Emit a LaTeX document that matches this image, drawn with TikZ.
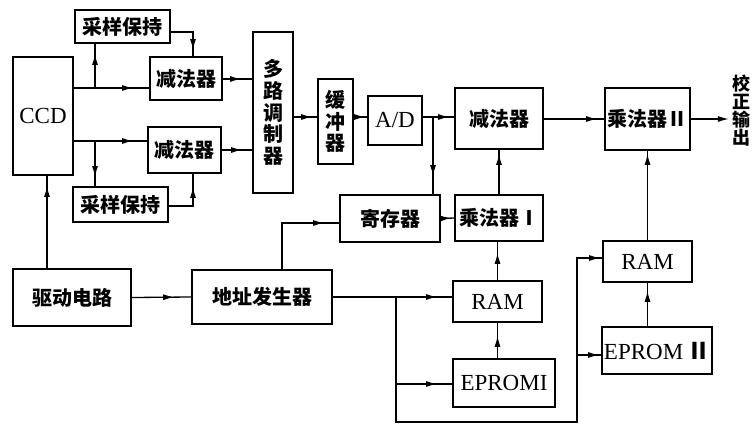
\documentclass[tikz,border=0pt]{standalone}
\usepackage{fontspec}
\setmainfont{Liberation Serif}
\newfontfamily\cjk{Noto Sans CJK SC}
\usetikzlibrary{arrows.meta,decorations.markings}
\tikzset{
  box/.style={draw,line width=1.6pt,inner sep=0pt,font=\cjk\bfseries\fontsize{20}{21.6}\selectfont,align=center},
  lat/.style={font=\fontsize{23}{24}\selectfont},
  conn/.style={line width=1.3pt},
  ar/.style={postaction={decorate,decoration={markings,mark=at position #1 with {\arrow{Latex[length=11pt,width=6pt]}}}}},
}
\begin{document}
\begin{tikzpicture}[x=1pt,y=-1pt]
\useasboundingbox (0,0) rectangle (752,425);
% boxes
\node[box,lat,minimum width=60,minimum height=118] (ccd) at (43,116) {CCD};
\node[box,minimum width=95,minimum height=33] (sh1) at (122.5,26.5) {采样保持};
\node[box,minimum width=72,minimum height=43] (sub1) at (186,78.5) {减法器};
\node[box,minimum width=73,minimum height=46] (sub2) at (184.5,150) {减法器};
\node[box,minimum width=95,minimum height=35] (sh2) at (120.5,204.5) {采样保持};
\node[box,minimum width=40,minimum height=161] (mux) at (273,112.5) {多\\路\\调\\制\\器};
\node[box,minimum width=35,minimum height=85] (buf) at (335.5,121.5) {缓\\冲\\器};
\node[box,lat,minimum width=54,minimum height=49] (ad) at (395,120.5) {A/D};
\node[box,minimum width=88,minimum height=61] (sub3) at (499,118.5) {减法器};
\node[box,minimum width=100,minimum height=47] (reg) at (390,218.5) {寄存器};
\node[box,minimum width=88,minimum height=46] (mul1) at (499,218) {乘法器Ⅰ};
\node[box,minimum width=118,minimum height=57] (drv) at (72,297.5) {驱动电路};
\node[box,minimum width=140,minimum height=54] (addr) at (262,297) {地址发生器};
\node[box,lat,minimum width=89,minimum height=41] (ram1) at (497.5,301.5) {RAM};
\node[box,lat,minimum width=102,minimum height=48] (ep1) at (504,383) {EPROMI};
\node[box,lat,minimum width=89,minimum height=41] (ram2) at (647.5,261.5) {RAM};
\node[box,lat,minimum width=110,minimum height=47] (ep2) at (657,350.5) {EPROM\,{\cjk\bfseries Ⅱ}};
\node[box,minimum width=85,minimum height=62] (mul2) at (647.5,119) {乘法器Ⅱ};
\node[inner sep=0pt,align=center,font=\cjk\bfseries\fontsize{18}{18}\selectfont] (out) at (741,111) {校\\正\\输\\出};
% junction coordinates
\coordinate (j1) at (95,88);
\coordinate (j2) at (95,141);
\coordinate (k1) at (193,32);
\coordinate (k2) at (193,206);
\coordinate (m1) at (237,79);
\coordinate (m2) at (237,150);
\coordinate (r1) at (433,117);
\coordinate (d1) at (47,0);
\coordinate (a1) at (282,223);
\coordinate (b1) at (396,297);
\coordinate (b2) at (396,384);
\coordinate (b3) at (396,422);
\coordinate (b4) at (577,422);
\coordinate (b5) at (577,355);
\coordinate (b6) at (577,258);
% connectors
\draw[conn,ar=-16pt] (ccd.east |- j1) -- (sub1.west |- j1);
\draw[conn,ar=-10pt] (j1) -- (j1 |- sh1.south);
\draw[conn,ar=-6pt] (sh1.east |- k1) -- (k1) -- (k1 |- sub1.north);
\draw[conn,ar=-14pt] (ccd.east |- j2) -- (sub2.west |- j2);
\draw[conn,ar=-9pt] (j2) -- (j2 |- sh2.north);
\draw[conn,ar=-13pt] (sh2.east |- k2) -- (k2) -- (k2 |- sub2.south);
\draw[conn,ar=-11pt] (sub1.east |- m1) -- (mux.west |- m1);
\draw[conn,ar=-10pt] (sub2.east |- m2) -- (mux.west |- m2);
\draw[conn,ar=-5pt] (mux.east |- r1) -- (buf.west |- r1);
\draw[conn,ar=-2pt] (buf.east |- r1) -- (ad.west |- r1);
\draw[conn,ar=-5pt] (ad.east |- r1) -- (sub3.west |- r1);
\draw[conn,ar=-18pt] (r1) -- (r1 |- reg.north);
\draw[conn,ar=-3pt] (reg.east) -- (mul1.west);
\draw[conn,ar=-4pt] (mul1.north) -- (mul1.north |- sub3.south);
\draw[conn,ar=-10pt] (d1 |- drv.north) -- (d1 |- ccd.south);
\draw[conn,ar=-17pt] (drv.east) -- (addr.west);
\draw[conn,ar=-15pt] (a1 |- addr.north) -- (a1) -- (reg.west |- a1);
\draw[conn,ar=-15pt] (addr.east |- b1) -- (ram1.west |- b1);
\draw[conn] (b1) -- (b2);
\draw[conn,ar=-15pt] (b2) -- (ep1.west |- b2);
\draw[conn,ar=-2pt] (b2) -- (b3) -- (b4) -- (b6) -- (ram2.west |- b6);
\draw[conn,ar=-2pt] (b5) -- (ep2.west |- b5);
\draw[conn,ar=-13pt] (ram1.south |- ep1.north) -- (ram1.south);
\draw[conn,ar=-11pt] (ram1.north) -- (ram1.north |- mul1.south);
\draw[conn,ar=-8pt] (ram2.south |- ep2.north) -- (ram2.south);
\draw[conn,ar=-3pt] (ram2.north) -- (ram2.north |- mul2.south);
\draw[conn,ar=-7pt] (sub3.east |- mul2.west) -- (mul2.west);
\draw[conn,-{Latex[length=11pt,width=6pt]},shorten >=3pt] (mul2.east) -- (out.west |- mul2.east);
\end{tikzpicture}
\end{document}
